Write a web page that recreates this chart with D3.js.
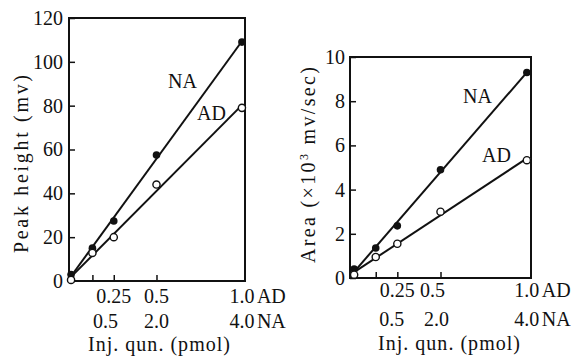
<!DOCTYPE html>
<html>
<head>
<meta charset="utf-8">
<script src="https://cdn.jsdelivr.net/npm/d3@7"></script>
<style>
  body { margin: 0; background: #fff; }
  text { font-family: "Liberation Serif", serif; fill: #111; }
</style>
</head>
<body>
<script>
// injected amount, AD pmol (NA pmol = 4 x AD)
const doseAD = [0, 0.125, 0.25, 0.5, 1.0];
// peak height (mv)
const heightNA = [3, 15, 27.4, 57.5, 109];
const heightAD = [0.5, 12.8, 20, 44, 79];
// area (x10^3 mv/sec)
const areaNA = [0.4, 1.36, 2.36, 4.9, 9.3];
const areaAD = [0.15, 0.95, 1.55, 3.0, 5.33];

const xTicks = [0.125, 0.25, 0.5];
const adLabels = ["0.25", "0.5", "1.0"];
const adLabelAt = [0.25, 0.5, 1.0];
const naLabels = ["0.5", "2.0", "4.0"];
const naLabelAt = [0.5, 2.0, 4.0];
const heightTicks = [0, 20, 40, 60, 80, 100, 120];
const areaTicks = [0, 2, 4, 6, 8, 10];

const W = 576, H = 358;
const FS = "20px";
const svg = d3.select("body").append("svg")
    .attr("width", W)
    .attr("height", H);

// least squares line through a series
function fit(xs, ys) {
    var mx = d3.mean(xs), my = d3.mean(ys);
    var sxy = d3.sum(xs, (v, i) => (v - mx) * (ys[i] - my));
    var sxx = d3.sum(xs, v => (v - mx) * (v - mx));
    var b = sxy / sxx;
    return [[0, my - b * mx], [1, my - b * mx + b]];
}

function panel(o) {
    var x = d3.scaleLinear().domain(o.xDomain).range([o.left, o.right]);
    var y = d3.scaleLinear().domain(o.yDomain).range([o.bottom, o.top]);
    var g = svg.append("g").attr("class", "panel");

    // y ticks, pointing inward
    var yAxis = g.append("g")
        .attr("transform", "translate(" + o.left + ",0)")
        .call(d3.axisLeft(y).tickValues(o.yTicks).tickSize(-6).tickPadding(o.yPad));
    yAxis.select(".domain").remove();
    yAxis.selectAll("line").attr("stroke", "#111").attr("stroke-width", 1.5);
    yAxis.selectAll("text")
        .style("font-family", '"Liberation Serif", serif')
        .style("font-size", FS)
        .attr("fill", "#111");

    // x ticks, pointing inward
    var xAxis = g.append("g")
        .attr("transform", "translate(0," + o.bottom + ")")
        .call(d3.axisBottom(x).tickValues(xTicks).tickSize(-6).tickFormat(""));
    xAxis.select(".domain").remove();
    xAxis.selectAll("line").attr("stroke", "#111").attr("stroke-width", 1.5);

    // frame
    g.append("rect")
        .attr("x", o.left).attr("y", o.top)
        .attr("width", o.right - o.left).attr("height", o.bottom - o.top)
        .attr("fill", "none").attr("stroke", "#111").attr("stroke-width", 2);

    // fitted lines
    var line = d3.line().x(d => x(d[0])).y(d => y(d[1]));
    [o.na, o.ad].forEach(function (ys) {
        g.append("path")
            .datum(fit(doseAD, ys))
            .attr("d", line)
            .attr("fill", "none").attr("stroke", "#111").attr("stroke-width", 2);
    });

    // points
    g.selectAll(".na").data(o.na).enter().append("circle")
        .attr("class", "na")
        .attr("cx", (d, i) => x(doseAD[i])).attr("cy", d => y(d))
        .attr("r", 3.8).attr("fill", "#111");
    g.selectAll(".ad").data(o.ad).enter().append("circle")
        .attr("class", "ad")
        .attr("cx", (d, i) => x(doseAD[i])).attr("cy", d => y(d))
        .attr("r", 3.6).attr("fill", "#fff").attr("stroke", "#111").attr("stroke-width", 1.4);

    // series names
    g.append("text").attr("x", o.naText[0]).attr("y", o.naText[1])
        .style("font-size", FS).text("NA");
    g.append("text").attr("x", o.adText[0]).attr("y", o.adText[1])
        .style("font-size", FS).text("AD");

    // x labels, AD row and NA row
    g.selectAll(".adl").data(adLabels).enter().append("text")
        .attr("class", "adl")
        .attr("x", (d, i) => x(adLabelAt[i]) + o.adNudge[i])
        .attr("y", o.rows[0])
        .attr("text-anchor", "middle")
        .style("font-size", FS).text(d => d);
    g.selectAll(".nal").data(naLabels).enter().append("text")
        .attr("class", "nal")
        .attr("x", (d, i) => x(naLabelAt[i] / 4) + o.naNudge[i])
        .attr("y", o.rows[1])
        .attr("text-anchor", "middle")
        .style("font-size", FS).text(d => d);
    g.append("text").attr("x", x(1) + 15).attr("y", o.rows[0])
        .style("font-size", FS).text("AD");
    g.append("text").attr("x", x(1) + 15).attr("y", o.rows[1])
        .style("font-size", FS).text("NA");

    // x title
    g.append("text")
        .attr("x", o.xTitleX).attr("y", o.rows[2])
        .attr("text-anchor", "middle")
        .attr("textLength", 142).attr("lengthAdjust", "spacing")
        .style("font-size", FS).text("Inj. qun. (pmol)");

    // y title
    var yt = g.append("text")
        .attr("transform", "translate(" + o.yTitle[0] + "," + o.yTitle[1] + ") rotate(-90)")
        .attr("text-anchor", "middle")
        .attr("textLength", o.yTitle[2]).attr("lengthAdjust", "spacing")
        .style("font-size", FS);
    o.yTitleParts.forEach(function (p) {
        var t = yt.append("tspan").text(p[0]);
        if (p[1]) t.attr("baseline-shift", "super").style("font-size", "12px");
    });
}

panel({
    left: 69, right: 245, top: 18, bottom: 281,
    xDomain: [-0.012, 1.018], yDomain: [0, 120],
    yTicks: heightTicks, yPad: 6,
    na: heightNA, ad: heightAD,
    naText: [168, 88], adText: [197, 120],
    adNudge: [0, 0, 0], naNudge: [13, 0, 0],
    rows: [303, 328, 351],
    xTitleX: 159,
    yTitle: [28, 164, 178],
    yTitleParts: [["Peak height (mv)", false]]
});

panel({
    left: 350, right: 531, top: 57, bottom: 278,
    xDomain: [-0.024, 1.024], yDomain: [0, 10],
    yTicks: areaTicks, yPad: 5,
    na: areaNA, ad: areaAD,
    naText: [463, 103], adText: [482, 162],
    adNudge: [0, -8, 0], naNudge: [16, -4, 0],
    rows: [297, 326, 350],
    xTitleX: 449,
    yTitle: [315, 165, 196],
    yTitleParts: [["Area (×10", false], ["3", true], [" mv/sec)", false]]
});
</script>
</body>
</html>
